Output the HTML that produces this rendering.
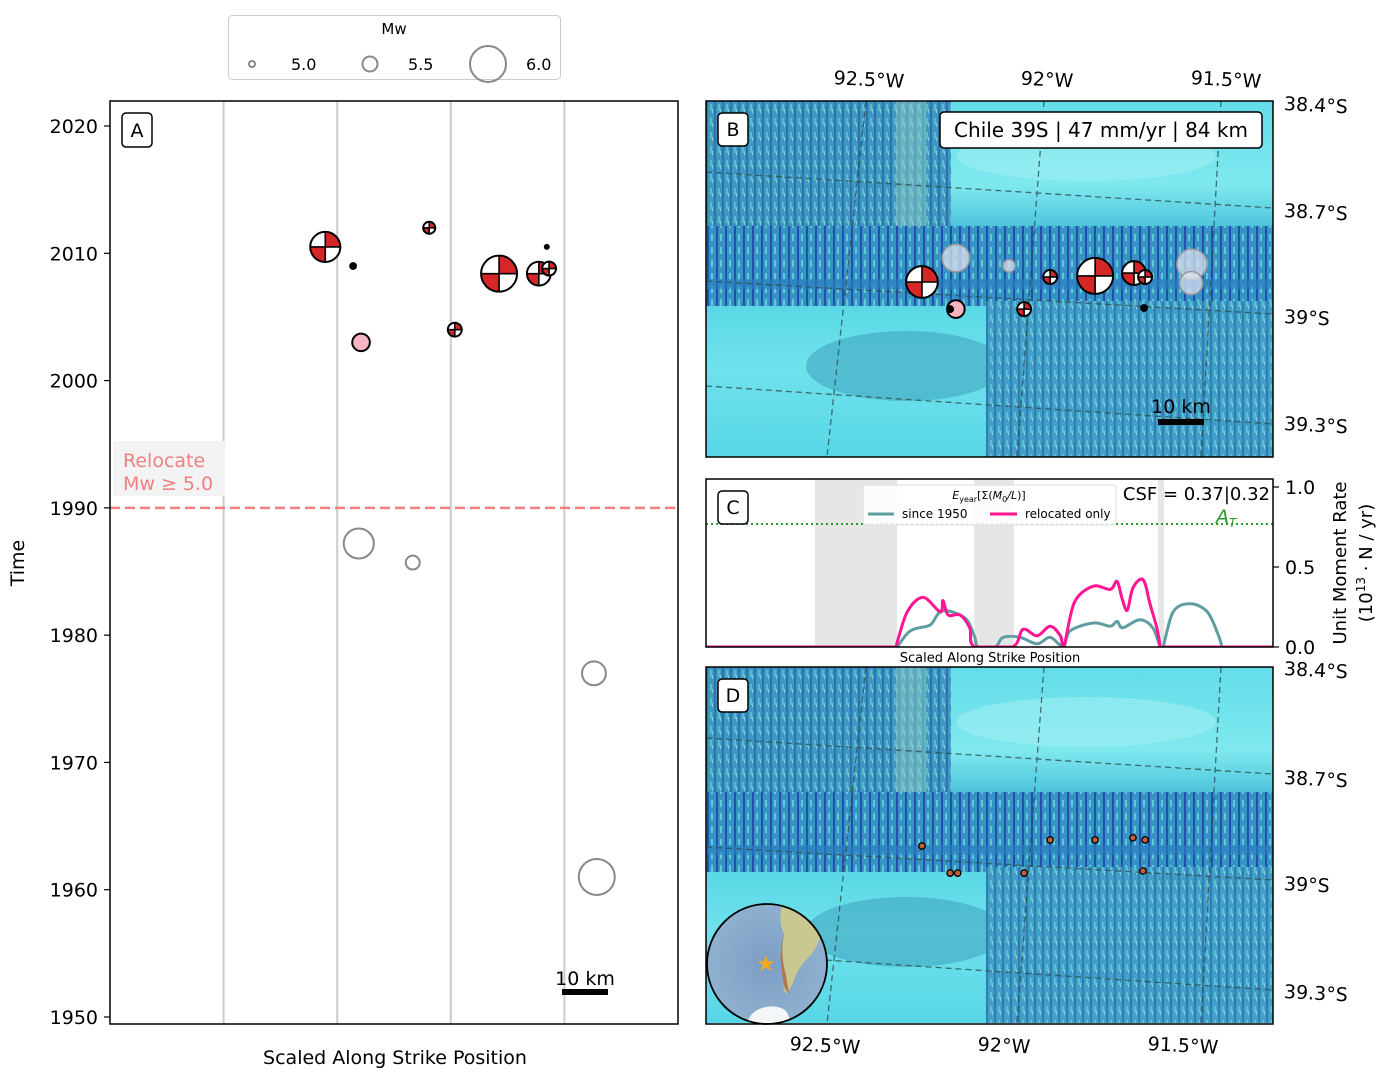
<!DOCTYPE html>
<html><head><meta charset="utf-8">
<style>
html,body{margin:0;padding:0;background:#fff;}
svg{display:block;font-family:"DejaVu Sans","Liberation Sans",sans-serif;}
</style></head>
<body>
<svg id="fig" width="1396" height="1083" viewBox="0 0 1396 1083" xmlns="http://www.w3.org/2000/svg">
<defs>
  <pattern id="ridges" width="8" height="14" patternUnits="userSpaceOnUse">
    <rect width="8" height="14" fill="#3a94c6"/>
    <rect x="0" y="0" width="2" height="14" fill="#2a5fb2"/>
    <rect x="4" y="3" width="2" height="7" fill="#5cc4d2"/>
    <rect x="6" y="8" width="1" height="4" fill="#8edcdc"/>
  </pattern>
  <pattern id="ridges2" width="9" height="13" patternUnits="userSpaceOnUse">
    <rect width="9" height="13" fill="#3594c4"/>
    <rect x="1" y="0" width="2" height="13" fill="#2350ae"/>
    <rect x="5" y="3" width="2" height="7" fill="#60c8d6"/>
  </pattern>
  <linearGradient id="smoothTop" x1="0" y1="0" x2="0" y2="1">
    <stop offset="0" stop-color="#62dde8"/><stop offset="0.6" stop-color="#7fe8ef"/><stop offset="1" stop-color="#3cb8d4"/>
  </linearGradient>
  <linearGradient id="smoothBot" x1="0" y1="0" x2="0" y2="1">
    <stop offset="0" stop-color="#5ad8e6"/><stop offset="0.4" stop-color="#6fe2ec"/><stop offset="1" stop-color="#58d6e6"/>
  </linearGradient>
  <radialGradient id="ocean" cx="0.5" cy="0.5" r="0.5">
    <stop offset="0" stop-color="#7d9ec4"/><stop offset="1" stop-color="#8fb0cf"/>
  </radialGradient>
  <clipPath id="clipB"><rect x="706" y="101" width="567" height="356"/></clipPath>
  <clipPath id="clipD"><rect x="706" y="667" width="567" height="357"/></clipPath>
  <clipPath id="clipC"><rect x="706" y="479" width="567" height="168"/></clipPath>
  <clipPath id="clipA"><rect x="110" y="101" width="568" height="923"/></clipPath>
  <clipPath id="clipGlobe"><circle cx="767" cy="964" r="60"/></clipPath>
  <g id="mapbg">
    <rect x="0" y="0" width="567" height="356" fill="#5cd6e4"/>
    <rect x="0" y="0" width="245" height="215" fill="url(#ridges)"/>
    <rect x="0" y="0" width="245" height="215" fill="#48a8b8" opacity="0.25"/>
    <rect x="190" y="0" width="30" height="200" fill="#8fd0c4" opacity="0.5"/>
    <rect x="245" y="0" width="322" height="140" fill="url(#smoothTop)"/>
    <ellipse cx="380" cy="55" rx="130" ry="25" fill="#a6f2f4" opacity="0.5"/>
    <rect x="0" y="125" width="567" height="85" fill="url(#ridges2)"/>
    <rect x="0" y="178" width="567" height="10" fill="#2a7fc0" opacity="0.6"/>
    <rect x="0" y="205" width="290" height="151" fill="url(#smoothBot)"/>
    <ellipse cx="200" cy="265" rx="100" ry="35" fill="#3a9ab8" opacity="0.5"/>
    <rect x="280" y="200" width="287" height="156" fill="url(#ridges)"/>
    <rect x="280" y="200" width="287" height="156" fill="#50b8c8" opacity="0.3"/>
  </g>
</defs>

<!-- Legend -->
<g>
  <rect x="228.5" y="15.5" width="332" height="64" rx="4" fill="#fff" stroke="#ccc"/>
  <text x="394" y="34" font-size="15" text-anchor="middle">Mw</text>
  <circle cx="252" cy="64" r="3" fill="none" stroke="#888" stroke-width="2"/>
  <text x="291" y="70" font-size="16">5.0</text>
  <circle cx="370" cy="64" r="7.5" fill="none" stroke="#888" stroke-width="2"/>
  <text x="408" y="70" font-size="16">5.5</text>
  <circle cx="488" cy="64" r="18" fill="none" stroke="#888" stroke-width="2"/>
  <text x="526" y="70" font-size="16">6.0</text>
</g>

<!-- Panel A -->
<g id="panelA">
  <rect x="110" y="101" width="568" height="923" fill="#fff"/>
  <g id="aGrid"></g>
  <g id="aMarks" clip-path="url(#clipA)"></g>
  <rect x="110" y="101" width="568" height="923" fill="none" stroke="#000" stroke-width="1.5"/>
  <g id="aTicks"></g>
  <text x="24" y="563" font-size="19" text-anchor="middle" transform="rotate(-90 24 563)">Time</text>
  <text x="395" y="1064" font-size="19" text-anchor="middle">Scaled Along Strike Position</text>
  <rect x="122" y="113" width="30" height="34" rx="4" fill="#fff" stroke="#000" stroke-width="1.5"/>
  <text x="137" y="137" font-size="19" text-anchor="middle">A</text>
  <rect x="113" y="441" width="112" height="55" fill="#f3f3f3"/>
  <text x="123" y="467" font-size="19" fill="#f08080">Relocate</text>
  <text x="123" y="490" font-size="19" fill="#f08080">Mw ≥ 5.0</text>
  <g>
    <text x="585" y="985" font-size="19" text-anchor="middle">10 km</text>
    <rect x="562" y="989" width="46" height="6" fill="#000"/>
  </g>
</g>

<!-- Panel B -->
<g id="panelB">
  <g clip-path="url(#clipB)">
    <use href="#mapbg" transform="translate(706 101)"/>
    <g stroke="#2f4f4f" stroke-width="1.3" stroke-dasharray="6 4" fill="none" opacity="0.8">
      <path d="M706 172 L1273 208"/><path d="M706 281 L1273 314"/><path d="M706 386 L1273 424"/>
      <path d="M866 101 L827 457"/><path d="M1044 101 L1017 457"/><path d="M1221 101 L1201 457"/>
    </g>
    <g id="bMarks"></g>
  </g>
  <rect x="706" y="101" width="567" height="356" fill="none" stroke="#000" stroke-width="1.5"/>
  <rect x="718" y="113" width="30" height="33" rx="4" fill="#fff" stroke="#000" stroke-width="1.5"/>
  <text x="733" y="136" font-size="19" text-anchor="middle">B</text>
  <rect x="940" y="112" width="322" height="36" rx="4" fill="#fff" stroke="#000" stroke-width="1.5"/>
  <text x="1101" y="137" font-size="20" text-anchor="middle">Chile 39S | 47 mm/yr | 84 km</text>
  <g>
    <text x="1181" y="413" font-size="19" text-anchor="middle">10 km</text>
    <rect x="1158" y="419" width="46" height="6" fill="#000"/>
  </g>
  <text x="869" y="86" font-size="19" text-anchor="middle" transform="rotate(3 869 80)">92.5°W</text>
  <text x="1047" y="86" font-size="19" text-anchor="middle" transform="rotate(3 1047 80)">92°W</text>
  <text x="1226" y="86" font-size="19" text-anchor="middle" transform="rotate(3 1226 80)">91.5°W</text>
  <text x="1284" y="110" font-size="19" transform="rotate(3 1284 104)">38.4°S</text>
  <text x="1284" y="217" font-size="19" transform="rotate(3 1284 211)">38.7°S</text>
  <text x="1284" y="323" font-size="19" transform="rotate(3 1284 317)">39°S</text>
  <text x="1284" y="430" font-size="19" transform="rotate(3 1284 424)">39.3°S</text>
</g>

<!-- Panel C -->
<g id="panelC">
  <rect x="706" y="479" width="567" height="168" fill="#fff"/>
  <g id="cBands" clip-path="url(#clipC)"></g>
  <line x1="706" y1="524" x2="1273" y2="524" stroke="#2a9a2a" stroke-width="2" stroke-dasharray="2 3"/>
  <g id="cLines" clip-path="url(#clipC)"></g>
  <rect x="706" y="479" width="567" height="168" fill="none" stroke="#000" stroke-width="1.5"/>
  <g id="cTicks"></g>
  <rect x="718" y="491" width="30" height="33" rx="4" fill="#fff" stroke="#000" stroke-width="1.5"/>
  <text x="733" y="514" font-size="19" text-anchor="middle">C</text>
  <g>
    <rect x="863" y="485" width="253" height="40" rx="3" fill="#fff" fill-opacity="0.85" stroke="#ddd"/>
    <text x="989" y="499" font-size="11" text-anchor="middle"><tspan font-style="italic">E</tspan><tspan font-size="8" dy="3">year</tspan><tspan dy="-3">[Σ(</tspan><tspan font-style="italic">M</tspan><tspan font-size="8" dy="3">0</tspan><tspan dy="-3" font-style="italic">/L</tspan><tspan>)]</tspan></text>
    <line x1="868" y1="514" x2="894" y2="514" stroke="#5f9ea0" stroke-width="3"/>
    <text x="902" y="518" font-size="12">since 1950</text>
    <line x1="990" y1="514" x2="1017" y2="514" stroke="#ff1493" stroke-width="3"/>
    <text x="1025" y="518" font-size="12">relocated only</text>
  </g>
  <text x="1270" y="500" font-size="18" text-anchor="end">CSF = 0.37|0.32</text>
  <text x="1216" y="523" font-size="19" font-style="italic" fill="#2a9a2a">A<tspan font-size="12" dy="4">T</tspan></text>
  <text x="990" y="662" font-size="13" text-anchor="middle">Scaled Along Strike Position</text>
  <text x="1346" y="563" font-size="18" text-anchor="middle" transform="rotate(-90 1346 563)">Unit Moment Rate</text>
  <text x="1372" y="563" font-size="18" text-anchor="middle" transform="rotate(-90 1372 563)">(10<tspan font-size="12" dy="-7">13</tspan><tspan dy="7"> · N / yr)</tspan></text>
</g>

<!-- Panel D -->
<g id="panelD">
  <g clip-path="url(#clipD)">
    <use href="#mapbg" transform="translate(706 667)"/>
    <g stroke="#2f4f4f" stroke-width="1.3" stroke-dasharray="6 4" fill="none" opacity="0.8">
      <path d="M706 738 L1273 774"/><path d="M706 847 L1273 880"/><path d="M706 952 L1273 990"/>
      <path d="M866 667 L827 1024"/><path d="M1044 667 L1017 1024"/><path d="M1221 667 L1201 1024"/>
    </g>
    <g id="dMarks"></g>
  </g>
  <g>
    <circle cx="767" cy="964" r="60" fill="url(#ocean)"/>
    <g clip-path="url(#clipGlobe)">
      <path d="M782 906 Q798 902 806 910 Q818 920 820 935 Q818 948 808 958 Q798 968 794 980 Q790 990 786 994 Q782 988 784 975 Q780 955 784 935 Q778 920 782 906 Z" fill="#c8c890"/>
      <path d="M784 932 Q780 955 786 975 Q788 988 789 993 Q784 990 783 980 Q778 955 784 932Z" fill="#b07a50"/>
      <path d="M745 1030 Q748 1012 762 1008 Q775 1004 785 1010 Q792 1018 790 1030Z" fill="#f4f6f8"/>
    </g>
    <circle cx="767" cy="964" r="60" fill="none" stroke="#000" stroke-width="1.8"/>
    <text x="766" y="971" font-size="22" text-anchor="middle" fill="#f5a623">★</text>
  </g>
  <rect x="706" y="667" width="567" height="357" fill="none" stroke="#000" stroke-width="1.5"/>
  <rect x="718" y="679" width="30" height="33" rx="4" fill="#fff" stroke="#000" stroke-width="1.5"/>
  <text x="733" y="702" font-size="19" text-anchor="middle">D</text>
  <text x="825" y="1052" font-size="19" text-anchor="middle" transform="rotate(3 825 1045)">92.5°W</text>
  <text x="1004" y="1052" font-size="19" text-anchor="middle" transform="rotate(3 1004 1045)">92°W</text>
  <text x="1183" y="1052" font-size="19" text-anchor="middle" transform="rotate(3 1183 1045)">91.5°W</text>
  <text x="1284" y="675" font-size="19" transform="rotate(3 1284 668)">38.4°S</text>
  <text x="1284" y="784" font-size="19" transform="rotate(3 1284 777)">38.7°S</text>
  <text x="1284" y="890" font-size="19" transform="rotate(3 1284 883)">39°S</text>
  <text x="1284" y="998" font-size="19" transform="rotate(3 1284 991)">39.3°S</text>
</g>
</svg>

<script>
// ---------- Panel A data ----------
const aYearTicks = [1950, 1960, 1970, 1980, 1990, 2000, 2010, 2020];
const aGridPos = [20, 40, 60, 80];
const aRelocateYear = 1990;
const aPos  = [37.9, 42.8, 56.2, 44.2, 60.7, 68.5, 75.5, 77.3, 76.9, 43.8, 53.3, 85.2, 85.7];
const aYear = [2010.5, 2009.0, 2012.0, 2003.0, 2004.0, 2008.4, 2008.4, 2008.8, 2010.5, 1987.2, 1985.7, 1977.0, 1961.0];
const aMw   = [5.9, 5.15, 5.39, 5.6, 5.47, 6.0, 5.77, 5.47, 5.0, 5.9, 5.47, 5.77, 6.0];
const aType = ['bb','dot','bb','pink','bb','bb','bb','bb','dot','gray','gray','gray','gray'];

// ---------- Map data (panel B) ----------
const bLon  = [-92.195, -92.046, -91.534, -91.536, -92.29, -91.931, -91.805, -91.696, -91.665, -92.195, -92.211, -92.004, -91.668];
const bLat  = [-38.832, -38.854, -38.849, -38.902, -38.899, -38.885, -38.882, -38.874, -38.885, -38.975, -38.975, -38.975, -38.972];
const bMw   = [5.85, 5.4, 5.9, 5.75, 5.93, 5.47, 6.0, 5.77, 5.47, 5.6, 5.15, 5.47, 5.15];
const bType = ['gray','gray','gray','gray','bb','bb','bb','bb','bb','pink','dot','bb','dot'];

// ---------- Panel D data ----------
const dLon = [-92.29, -92.211, -92.19, -92.004, -91.931, -91.805, -91.699, -91.665, -91.671];
const dLat = [-38.899, -38.975, -38.975, -38.975, -38.882, -38.882, -38.876, -38.882, -38.969];

// ---------- Panel C data ----------
const cTicks = [0.0, 0.5, 1.0];
const cThreshold = 0.77;
const cBandStart = [19.2, 47.3, 79.7];
const cBandEnd   = [33.7, 54.3, 80.8];
const relocX = [33.5, 35.5, 38.3, 41.3, 41.8, 42.7, 44.8, 46.5, 47.4, 54.0, 55.9, 58.4, 60.7, 62.5, 63.1, 65.0, 68.3, 71.3, 72.5, 73.4, 74.3, 75.3, 77.1, 78.3, 79.5, 80.1];
const relocY = [0.0, 0.22, 0.31, 0.22, 0.29, 0.20, 0.20, 0.12, 0.0, 0.0, 0.11, 0.07, 0.13, 0.07, 0.0, 0.28, 0.38, 0.36, 0.41, 0.30, 0.23, 0.37, 0.42, 0.27, 0.12, 0.0];
const sinceX = [33.7, 36.0, 39.0, 39.9, 41.3, 43.4, 46.0, 47.4, 48.0, 51.0, 52.4, 55.4, 58.4, 60.7, 63.0, 64.2, 68.3, 71.3, 72.5, 73.5, 76.5, 78.8, 80.1, 80.6, 82.4, 85.4, 88.4, 90.3, 91.0];
const sinceY = [0.0, 0.10, 0.13, 0.15, 0.22, 0.22, 0.17, 0.06, 0.0, 0.0, 0.06, 0.06, 0.02, 0.06, 0.0, 0.10, 0.15, 0.13, 0.16, 0.12, 0.17, 0.12, 0.0, 0.0, 0.22, 0.27, 0.22, 0.08, 0.0];

const NS = 'http://www.w3.org/2000/svg';
function mk(tag, attrs, parent) {
  const e = document.createElementNS(NS, tag);
  for (const k in attrs) e.setAttribute(k, attrs[k]);
  parent.appendChild(e);
  return e;
}
const axX = p => 110 + p / 100 * 568;
const axY = y => 1017 - (y - 1950) * (891 / 70);
const mapX = lon => 847 + (lon + 92.5) * 357;
const mapY = lat => 104 + (-38.4 - lat) * 356.7;
const cX = p => 706 + p / 100 * 567;
const cY = v => 647 - v * 160;
const rad = mw => 3 * Math.pow(6, (mw - 5));

function beachball(parent, cx, cy, r) {
  const g = mk('g', {}, parent);
  
  
  mk('circle', {cx, cy, r, fill: '#fff'}, g);
  mk('path', {d: `M${cx} ${cy} L${cx} ${cy - r} A${r} ${r} 0 0 1 ${cx + r} ${cy} Z`, fill: '#d62728'}, g);
  mk('path', {d: `M${cx} ${cy} L${cx} ${cy + r} A${r} ${r} 0 0 1 ${cx - r} ${cy} Z`, fill: '#d62728'}, g);
  mk('line', {x1: cx - r, y1: cy, x2: cx + r, y2: cy, stroke: '#000', 'stroke-width': 1.6}, g);
  mk('line', {x1: cx, y1: cy - r, x2: cx, y2: cy + r, stroke: '#000', 'stroke-width': 1.6}, g);
  mk('circle', {cx, cy, r, fill: 'none', stroke: '#000', 'stroke-width': 2}, g);
}
function eventMark(parent, type, cx, cy, r, onMap) {
  if (type === 'bb') { beachball(parent, cx, cy, r); return; }
  let e;
  if (type === 'dot') e = mk('circle', {cx, cy, r: Math.min(r, 4), fill: '#000'}, parent);
  else if (type === 'pink') e = mk('circle', {cx, cy, r, fill: '#f8b4c0', stroke: '#000', 'stroke-width': 2}, parent);
  else if (onMap) e = mk('circle', {cx, cy, r, fill: '#dde0ee', 'fill-opacity': 0.75, stroke: '#999', 'stroke-width': 1.5}, parent);
  else e = mk('circle', {cx, cy, r, fill: 'none', stroke: '#888', 'stroke-width': 2}, parent);
  
  
}

// Panel A
const aGrid = document.getElementById('aGrid');
aGridPos.forEach(p => {
  const l = mk('line', {x1: axX(p), x2: axX(p), y1: 101, y2: 1024, stroke: '#ccc', 'stroke-width': 2}, aGrid);
  
  
});
const rl = mk('line', {x1: 110, x2: 678, y1: axY(aRelocateYear), y2: axY(aRelocateYear), stroke: '#f08080', 'stroke-width': 2.5, 'stroke-dasharray': '10 5'}, aGrid);


const aTicks = document.getElementById('aTicks');
aYearTicks.forEach(y => {
  mk('line', {x1: 104, x2: 110, y1: axY(y), y2: axY(y), stroke: '#000', 'stroke-width': 1.2}, aTicks);
  const t = mk('text', {x: 98, y: axY(y) + 7, 'font-size': 19, 'text-anchor': 'end'}, aTicks);
  t.textContent = y;
  
  
});
const aMarks = document.getElementById('aMarks');
aPos.forEach((p, i) => eventMark(aMarks, aType[i], axX(p), axY(aYear[i]), rad(aMw[i]), false));

// Panel B
const bMarks = document.getElementById('bMarks');
bLon.forEach((lon, i) => eventMark(bMarks, bType[i], mapX(lon), mapY(bLat[i]), rad(bMw[i]), true));

// Panel D
const dMarks = document.getElementById('dMarks');
dLon.forEach((lon, i) => {
  const c = mk('circle', {cx: mapX(lon), cy: mapY(dLat[i]) + 564, r: 3.2, fill: '#c0603a', stroke: '#000', 'stroke-width': 1.3}, dMarks);
  
  
});

// Panel C
const cBands = document.getElementById('cBands');
cBandStart.forEach((s, i) => {
  const r = mk('rect', {x: cX(s), y: 479, width: cX(cBandEnd[i]) - cX(s), height: 168, fill: '#e6e6e6'}, cBands);
  
  
});
const cTk = document.getElementById('cTicks');
cTicks.forEach(v => {
  mk('line', {x1: 1273, x2: 1279, y1: cY(v), y2: cY(v), stroke: '#000', 'stroke-width': 1.2}, cTk);
  const t = mk('text', {x: 1285, y: cY(v) + 7, 'font-size': 19}, cTk);
  t.textContent = v.toFixed(1);
  
  
});
const cLines = document.getElementById('cLines');
function series(xs, ys, color, name) {
  const pts = xs.map((x, i) => [cX(x), cY(ys[i])]);
  let d = `M${cX(0)} ${cY(0)} L${pts[0][0].toFixed(1)} ${pts[0][1].toFixed(1)}`;
  for (let i = 0; i < pts.length - 1; i++) {
    const p0 = pts[Math.max(i - 1, 0)], p1 = pts[i], p2 = pts[i + 1], p3 = pts[Math.min(i + 2, pts.length - 1)];
    let c1y = p1[1] + (p2[1] - p0[1]) / 6, c2y = p2[1] - (p3[1] - p1[1]) / 6;
    c1y = Math.min(c1y, cY(0)); c2y = Math.min(c2y, cY(0));
    d += ` C${(p1[0] + (p2[0] - p0[0]) / 6).toFixed(1)} ${c1y.toFixed(1)} ${(p2[0] - (p3[0] - p1[0]) / 6).toFixed(1)} ${c2y.toFixed(1)} ${p2[0].toFixed(1)} ${p2[1].toFixed(1)}`;
  }
  d += ` L${cX(100)} ${cY(0)}`;
  const p = mk('path', {d, fill: 'none', stroke: color, 'stroke-width': 3, 'stroke-linejoin': 'round'}, cLines);
  
  
}
series(sinceX, sinceY, '#5f9ea0', 'since-1950-line');
series(relocX, relocY, '#ff1493', 'relocated-only-line');
</script>
</body></html>
